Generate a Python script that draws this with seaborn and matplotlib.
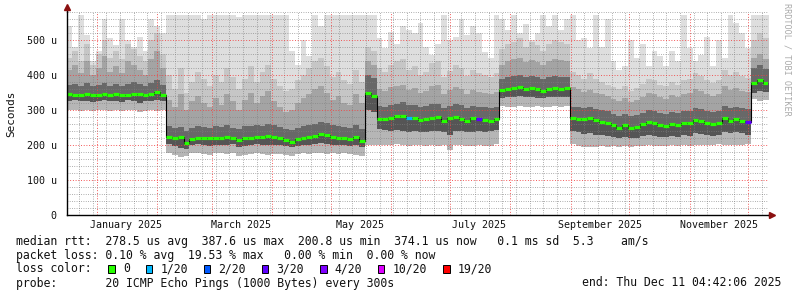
import numpy as np
import pandas as pd
import matplotlib
matplotlib.use("Agg")
import matplotlib.pyplot as plt
import matplotlib.dates as mdates
from matplotlib.ticker import MultipleLocator, FuncFormatter, NullFormatter
from matplotlib.patches import Rectangle
from datetime import datetime
import seaborn as sns

# ---------------- data (microseconds), one value per 3-day RRD step ----------------
t_start = datetime(2024, 12, 16, 12, 0)
t_end = datetime(2025, 12, 11, 4, 42, 6)
n_bins = 120

rtt_median = [346, 344, 342, 345, 344, 343, 345, 343, 346, 342, 344, 347, 345, 343, 346, 352, 342,
              222, 221, 224, 207, 218, 221, 220, 219, 221, 220, 222, 219, 213, 220, 221, 224, 222, 225,
              222, 219, 213, 210, 218, 221, 222, 226, 231, 228, 222, 221, 219, 218, 222, 211,
              349, 340,
              275, 273, 276, 282, 283, 277, 276, 272, 275, 278, 280, 268, 276, 279, 275, 268, 276, 273,
              272, 269, 274,
              356, 359, 362, 366, 361, 362, 359, 355, 360, 362, 361, 362,
              277, 275, 273, 278, 272, 267, 262, 256, 249, 256, 248, 252, 259, 265, 263, 258, 255, 260,
              257, 262, 263, 272, 268, 262, 259, 262, 278, 270, 275, 270, 267,
              376, 385, 377]

rtt_min = [299, 301, 298, 300, 297, 300, 299, 296, 300, 298, 301, 299, 293, 298, 300, 297, 299,
           178, 172, 165, 168, 176, 178, 175, 172, 177, 176, 174, 178, 170, 172, 175, 177, 174, 171,
           173, 175, 172, 168, 174, 176, 175, 177, 176, 174, 176, 175, 177, 174, 172, 168,
           200, 201,
           200, 201, 199, 202, 200, 198, 200, 199, 197, 200, 198, 199, 186, 199, 200, 198, 197, 199,
           196, 198, 203,
           312, 310, 309, 311, 310, 308, 311, 310, 309, 311, 310, 312,
           203, 196, 193, 195, 194, 196, 195, 197, 195, 196, 194, 197, 198, 199, 197, 198, 196, 199,
           198, 201, 196, 199, 200, 199, 201, 202, 199, 200, 201, 200, 203,
           332, 325, 328]

rtt_low_core = [326, 328, 325, 327, 324, 326, 328, 325, 327, 324, 328, 326, 320, 325, 327, 330, 326,
                202, 198, 192, 190, 200, 202, 200, 198, 201, 200, 199, 202, 195, 198, 200, 203, 200, 199,
                201, 200, 196, 193, 198, 201, 200, 203, 205, 202, 201, 200, 199, 198, 200, 193,
                300, 295,
                245, 242, 240, 243, 241, 238, 240, 236, 238, 241, 240, 238, 228, 240, 241, 238, 236, 240,
                237, 239, 242,
                335, 336, 338, 340, 337, 336, 335, 334, 336, 337, 336, 338,
                240, 236, 232, 234, 230, 228, 226, 222, 220, 222, 219, 221, 225, 228, 227, 224, 222, 226,
                224, 228, 227, 233, 232, 228, 227, 229, 238, 234, 236, 233, 230,
                350, 355, 352]

rtt_high_core = [372, 375, 370, 376, 368, 372, 378, 370, 374, 369, 375, 380, 373, 368, 376, 385, 372,
                 255, 250, 252, 240, 248, 255, 252, 250, 254, 252, 256, 250, 246, 253, 255, 258, 255, 260,
                 256, 252, 246, 244, 250, 254, 256, 260, 266, 262, 256, 254, 252, 250, 256, 246,
                 400, 392,
                 312, 310, 314, 318, 322, 315, 313, 308, 312, 316, 318, 306, 312, 316, 313, 306, 312, 310,
                 308, 305, 310,
                 390, 394, 396, 400, 395, 396, 393, 390, 394, 396, 395, 394,
                 310, 308, 306, 310, 304, 300, 296, 290, 284, 290, 283, 286, 292, 300, 298, 292, 290, 295,
                 292, 297, 298, 306, 302, 297, 294, 297, 312, 305, 310, 305, 302,
                 420, 428, 418]

rtt_high_mid = [415, 430, 405, 440, 400, 420, 455, 410, 425, 405, 440, 430, 415, 400, 445, 470, 420,
                330, 310, 345, 300, 325, 340, 320, 310, 335, 315, 345, 325, 300, 330, 350, 320, 340, 355,
                325, 310, 295, 300, 320, 335, 345, 360, 370, 350, 330, 340, 320, 315, 345, 320,
                440, 430,
                360, 355, 365, 370, 372, 358, 362, 348, 355, 368, 372, 345, 356, 365, 360, 346, 358, 352,
                350, 345, 352,
                430, 440, 445, 450, 438, 444, 436, 430, 440, 446, 442, 440,
                365, 360, 352, 358, 350, 345, 340, 332, 325, 335, 322, 330, 338, 348, 345, 336, 332, 342,
                336, 345, 348, 360, 354, 346, 340, 345, 368, 358, 362, 355, 352,
                450, 460, 445]

rtt_high_light = [450, 470, 440, 490, 430, 460, 500, 450, 470, 445, 490, 475, 455, 440, 500, 520, 460,
                  400, 360, 420, 350, 380, 410, 390, 370, 400, 380, 420, 395, 360, 390, 425, 380, 410, 430,
                  390, 370, 355, 360, 385, 400, 420, 440, 450, 425, 395, 410, 385, 375, 415, 380,
                  480, 470,
                  420, 410, 430, 440, 445, 415, 425, 400, 410, 435, 440, 395, 412, 430, 420, 398, 415, 405,
                  400, 395, 405,
                  475, 490, 495, 505, 480, 495, 485, 470, 490, 500, 495, 490,
                  410, 400, 390, 405, 388, 380, 372, 365, 360, 370, 355, 362, 375, 390, 385, 372, 368, 380,
                  372, 385, 390, 405, 398, 385, 378, 385, 415, 400, 408, 398, 392,
                  500, 520, 505]

rtt_max = [540, 480, 571, 515, 440, 470, 560, 505, 485, 560, 500, 480, 510, 470, 560, 540, 520,
           571, 571, 571, 571, 571, 571, 560, 571, 571, 571, 571, 571, 565, 571, 571, 571, 571, 571,
           571, 571, 571, 470, 430, 500, 455, 571, 540, 571, 571, 571, 571, 571, 571, 571,
           571, 571,
           505, 476, 524, 490, 540, 530, 520, 550, 480, 457, 490, 571, 500, 510, 560, 515, 540, 520,
           465, 450, 571,
           560, 530, 571, 520, 545, 500, 520, 571, 540, 571, 530, 560,
           571, 500, 505, 476, 571, 480, 560, 440, 415, 425, 500, 450, 490, 425, 470, 455, 425, 470,
           440, 571, 476, 440, 457, 510, 425, 500, 450, 571, 550, 520, 476,
           571, 571, 571]

loss_bin = [58, 70, 116]
loss_of_20 = [1, 3, 3]

loss_labels = ["0", "1/20", "2/20", "3/20", "4/20", "10/20", "19/20"]
loss_colors = ["#26ff00", "#00b8ff", "#0059ff", "#5e00ff", "#7e00ff", "#dd00ff", "#ff0000"]
loss_levels = [0, 1, 2, 3, 4, 10, 19]

month_labels = ["January 2025", "March 2025", "May 2025", "July 2025", "September 2025", "November 2025"]
month_label_dates = [datetime(2025, 1, 16), datetime(2025, 3, 16), datetime(2025, 5, 16),
                     datetime(2025, 7, 16), datetime(2025, 9, 16), datetime(2025, 11, 16)]

stats_line1 = "median rtt:  278.5 us avg  387.6 us max  200.8 us min  374.1 us now   0.1 ms sd  5.3    am/s"
stats_line2 = "packet loss: 0.10 % avg  19.53 % max   0.00 % min  0.00 % now"
probe_line = "probe:       20 ICMP Echo Pings (1000 Bytes) every 300s"
end_line = "end: Thu Dec 11 04:42:06 2025"

# ---------------- figure ----------------
sns.set_style("white")
plt.rcParams["font.family"] = ["DejaVu Sans Mono", "DejaVu Sans"]

W, H = 797, 297
fig = plt.figure(figsize=(W / 100, H / 100), dpi=100)
ax_left, ax_right, ax_bottom, ax_top = 66.5, 768, 215, 12
ax = fig.add_axes([ax_left / W, 1 - ax_bottom / H, (ax_right - ax_left) / W, (ax_bottom - ax_top) / H])
ax.set_facecolor("white")

edges = mdates.date2num(pd.date_range(t_start, periods=n_bins + 1, freq="3D").to_pydatetime())


def ext(a):
    a = np.asarray(a, dtype=float)
    return np.append(a, a[-1])


layers = [
    (rtt_high_light, rtt_max, "#dedede"),
    (rtt_high_mid, rtt_high_light, "#c6c6c6"),
    (rtt_high_core, rtt_high_mid, "#a4a4a4"),
    (rtt_median, rtt_high_core, "#686868"),
    (rtt_low_core, rtt_median, "#555555"),
    (rtt_min, rtt_low_core, "#b6b6b6"),
]
for lo, hi, col in layers:
    ax.fill_between(edges, ext(lo), ext(hi), step="post", color=col, lw=0, zorder=1)

# median: black step line + loss-coloured blocks
df_med = pd.DataFrame({"t": edges, "rtt": ext(rtt_median)})
sns.lineplot(data=df_med, x="t", y="rtt", drawstyle="steps-post", color="black",
             lw=0.8, ax=ax, zorder=3, sort=False, estimator=None)
bin_colors = [loss_colors[0]] * n_bins
for b, l in zip(loss_bin, loss_of_20):
    bin_colors[b] = loss_colors[loss_levels.index(l)]
ax.hlines(rtt_median, edges[:-1], edges[1:], colors=bin_colors, lw=2.3, zorder=4)

# axes ranges
ax.set_xlim(mdates.date2num(t_start), mdates.date2num(t_end))
ax.set_ylim(0, 580)
ax.set_xlabel("")
ax.set_ylabel("")

# grid (drawn over the smoke, as RRDtool does)
ax.set_axisbelow(False)
ax.xaxis.set_major_locator(mdates.MonthLocator())
ax.xaxis.set_minor_locator(mdates.WeekdayLocator(byweekday=mdates.MO))
ax.xaxis.set_major_formatter(NullFormatter())
ax.xaxis.set_minor_formatter(NullFormatter())
ax.yaxis.set_major_locator(MultipleLocator(100))
ax.yaxis.set_minor_locator(MultipleLocator(20))
ax.yaxis.set_major_formatter(FuncFormatter(lambda v, p: "0" if v == 0 else f"{int(round(v))} u"))
ax.grid(which="minor", color=(0.5, 0.5, 0.5, 0.4), ls=(0, (1, 2)), lw=0.55)
ax.grid(which="major", color=(0.95, 0.25, 0.25, 0.45), ls=(0, (1, 2)), lw=0.65)

ax.tick_params(axis="both", which="both", direction="out", color="black", width=0.6)
ax.tick_params(axis="both", which="major", length=3)
ax.tick_params(axis="both", which="minor", length=2)
ax.tick_params(axis="y", which="major", labelsize=7.2, pad=4, labelcolor="#111111")

for s in ["top", "right"]:
    ax.spines[s].set_visible(False)
for s in ["left", "bottom"]:
    ax.spines[s].set_color("black")
    ax.spines[s].set_linewidth(1.0)
    ax.spines[s].set_zorder(5)

# axis arrows
ax.plot([0, 0], [1.0, 1.02], transform=ax.transAxes, color="black", lw=1.0, clip_on=False, zorder=5)
ax.plot([0], [1.025], marker="^", ms=4.5, color="#8b1010", transform=ax.transAxes, clip_on=False, zorder=6)
ax.plot([1.0, 1.003], [0, 0], transform=ax.transAxes, color="black", lw=1.0, clip_on=False, zorder=5)
ax.plot([1.005], [0], marker=">", ms=4.5, color="#8b1010", transform=ax.transAxes, clip_on=False, zorder=6)

# month labels (centred in the month)
for lab, d in zip(month_labels, month_label_dates):
    ax.text(mdates.date2num(d), -0.05, lab, transform=ax.get_xaxis_transform(),
            ha="center", va="center", fontsize=7.2, color="#111111")

# y axis title and watermark
fig.text(11 / W, 1 - 114 / H, "Seconds", rotation=90, ha="center", va="center", fontsize=7.9, color="#111111")
fig.text(787 / W, 1 - 59 / H, "RRDTOOL / TOBI OETIKER", rotation=-90, ha="center", va="center",
         fontsize=6.1, color="#aaaaaa")

# legend / statistics block
fs = 8.3
fig.text(16 / W, 1 - 241 / H, stats_line1, ha="left", va="center", fontsize=fs, color="#111111")
fig.text(16 / W, 1 - 255 / H, stats_line2, ha="left", va="center", fontsize=fs, color="#111111")
fig.text(16 / W, 1 - 269 / H, "loss color:", ha="left", va="center", fontsize=fs, color="#111111")
box_x = [108.3, 145.7, 203.7, 261.7, 320.0, 377.7, 443.3]
text_x = [123.3, 160.7, 218.3, 276.7, 334.0, 392.3, 457.3]
for bx, tx, lab, col in zip(box_x, text_x, loss_labels, loss_colors):
    fig.add_artist(Rectangle((bx / W, 1 - 273 / H), 6.7 / W, 7.7 / H, transform=fig.transFigure,
                             facecolor=col, edgecolor="black", lw=0.7))
    fig.text(tx / W, 1 - 269 / H, lab, ha="left", va="center", fontsize=fs, color="#111111")
fig.text(16 / W, 1 - 283 / H, probe_line, ha="left", va="center", fontsize=fs, color="#111111")
fig.text(781 / W, 1 - 283 / H, end_line, ha="right", va="center", fontsize=fs, color="#111111")

fig.savefig("out.png", dpi=100, facecolor="white")
